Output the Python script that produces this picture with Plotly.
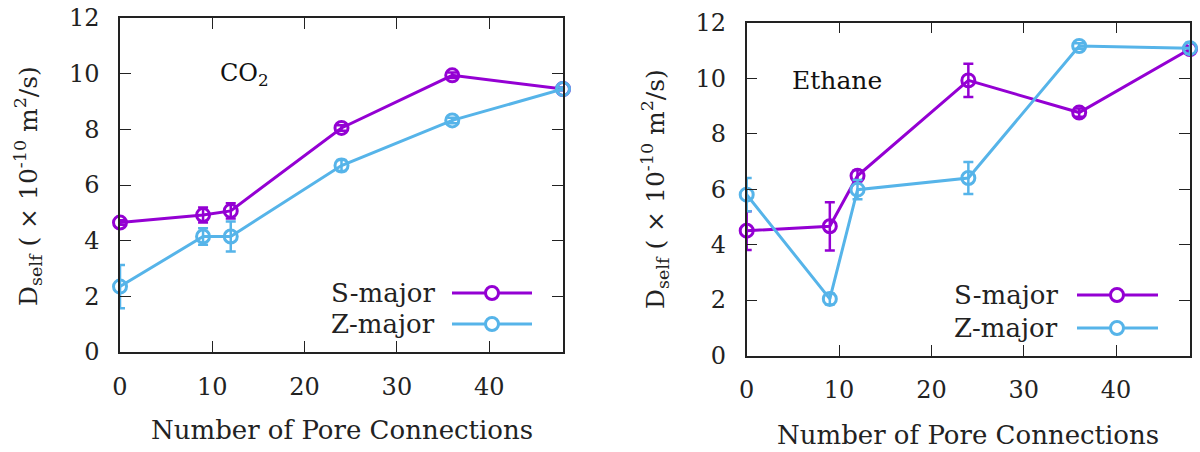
import plotly.graph_objects as go

W, H = 1200, 452

# ---- data ----
x_conn = [0, 9, 12, 24, 36, 48]

co2_s = [4.65, 4.92, 5.07, 8.05, 9.94, 9.45]
co2_s_err = [0.08, 0.27, 0.27, 0.1, 0.1, 0.05]
co2_z = [2.35, 4.15, 4.15, 6.7, 8.32, 9.45]
co2_z_err = [0.78, 0.3, 0.54, 0.2, 0.1, 0.05]

eth_s = [4.5, 4.66, 6.48, 9.92, 8.76, 11.05]
eth_s_err = [0.7, 0.87, 0.2, 0.6, 0.15, 0.1]
eth_z = [5.8, 2.04, 5.98, 6.4, 11.16, 11.08]
eth_z_err = [0.6, 0.2, 0.35, 0.58, 0.1, 0.2]

x_ticks = [0, 10, 20, 30, 40]
y_ticks = [0, 2, 4, 6, 8, 10, 12]
series_names = ["S-major", "Z-major"]
panel_labels = ["CO<sub>2</sub>", "Ethane"]

PURPLE = "#9400D3"
BLUE = "#56B4E9"
FONT = "DejaVu Serif"
AX = "#222222"


def px(x):
    return x / W


def py(y):
    return 1 - y / H


fig = go.Figure()


def add_series(xa, ya, ys, errs, color, name):
    fig.add_trace(go.Scatter(
        x=x_conn, y=ys, xaxis=xa, yaxis=ya, name=name, mode="lines+markers",
        line=dict(color=color, width=3),
        marker=dict(symbol="circle-open", size=13, color=color, line=dict(width=3, color=color)),
        error_y=dict(type="data", array=errs, visible=True, color=color, thickness=2.5, width=5),
        cliponaxis=False, showlegend=False,
    ))


add_series("x", "y", co2_s, co2_s_err, PURPLE, series_names[0])
add_series("x", "y", co2_z, co2_z_err, BLUE, series_names[1])
add_series("x2", "y2", eth_s, eth_s_err, PURPLE, series_names[0])
add_series("x2", "y2", eth_z, eth_z_err, BLUE, series_names[1])

xax = dict(range=[0, 48], tickvals=x_ticks, ticks="inside", ticklen=11, tickwidth=1.3,
           tickcolor=AX, showline=True, linecolor=AX, linewidth=1.5, mirror="ticks",
           showgrid=False, zeroline=False, tickfont=dict(family=FONT, size=24, color="#222"),
           ticklabelstandoff=12, automargin=False)
yax = dict(range=[0, 12], tickvals=y_ticks, ticks="inside", ticklen=11, tickwidth=1.3,
           tickcolor=AX, showline=True, linecolor=AX, linewidth=1.5, mirror="ticks",
           showgrid=False, zeroline=False, tickfont=dict(family=FONT, size=24, color="#222"),
           ticklabelstandoff=14, automargin=False)

fig.update_layout(
    width=W, height=H, margin=dict(l=0, r=0, t=0, b=0, autoexpand=False),
    paper_bgcolor="white", plot_bgcolor="white",
    xaxis=dict(xax, domain=[px(120), px(563)], anchor="y"),
    yaxis=dict(yax, domain=[py(352), py(18)], anchor="x"),
    xaxis2=dict(xax, domain=[px(746.7), px(1190)], anchor="y2"),
    yaxis2=dict(yax, domain=[py(355.5), py(22.7)], anchor="x2"),
)

ytitle = "D<sub>self</sub> ( × 10<sup>-10</sup> m<sup>2</sup>/s)"
ann = []
# axis titles
for cx, cy in [(28, 186), (655, 189)]:
    ann.append(dict(text=ytitle, x=px(cx), y=py(cy), xref="paper", yref="paper",
                    textangle=-90, showarrow=False, font=dict(family=FONT, size=25, color="#222"),
                    xanchor="center", yanchor="middle"))
for cx, cy in [(342, 430), (968, 435)]:
    ann.append(dict(text="Number of Pore Connections", x=px(cx), y=py(cy), xref="paper", yref="paper",
                    showarrow=False, font=dict(family=FONT, size=26, color="#222"),
                    xanchor="center", yanchor="middle"))
# panel labels
ann.append(dict(text=panel_labels[0], x=px(218), y=py(75), xref="paper", yref="paper",
                showarrow=False, font=dict(family=FONT, size=24, color="#111"),
                xanchor="left", yanchor="middle"))
ann.append(dict(text=panel_labels[1], x=px(790), y=py(80), xref="paper", yref="paper",
                showarrow=False, font=dict(family=FONT, size=25, color="#111"),
                xanchor="left", yanchor="middle"))

# manual gnuplot-style legends (text left, sample right)
shapes = []
legends = [
    (437, 452, 532, 492, [293, 324]),
    (1060, 1077, 1158, 1117, [295, 328]),
]
for tx, lx0, lx1, mx, ys in legends:
    for name, color, yy in zip(series_names, [PURPLE, BLUE], ys):
        ann.append(dict(text=name, x=px(tx), y=py(yy), xref="paper", yref="paper",
                        showarrow=False, font=dict(family=FONT, size=26, color="#222"),
                        xanchor="right", yanchor="middle"))
        shapes.append(dict(type="line", xref="paper", yref="paper",
                           x0=px(lx0), x1=px(lx1), y0=py(yy), y1=py(yy),
                           line=dict(color=color, width=3)))
        r = 6.5
        shapes.append(dict(type="circle", xref="paper", yref="paper",
                           x0=px(mx - r), x1=px(mx + r), y0=py(yy + r), y1=py(yy - r),
                           line=dict(color=color, width=3), fillcolor="white"))

fig.update_layout(annotations=ann, shapes=shapes)
fig.write_html("out.html")
